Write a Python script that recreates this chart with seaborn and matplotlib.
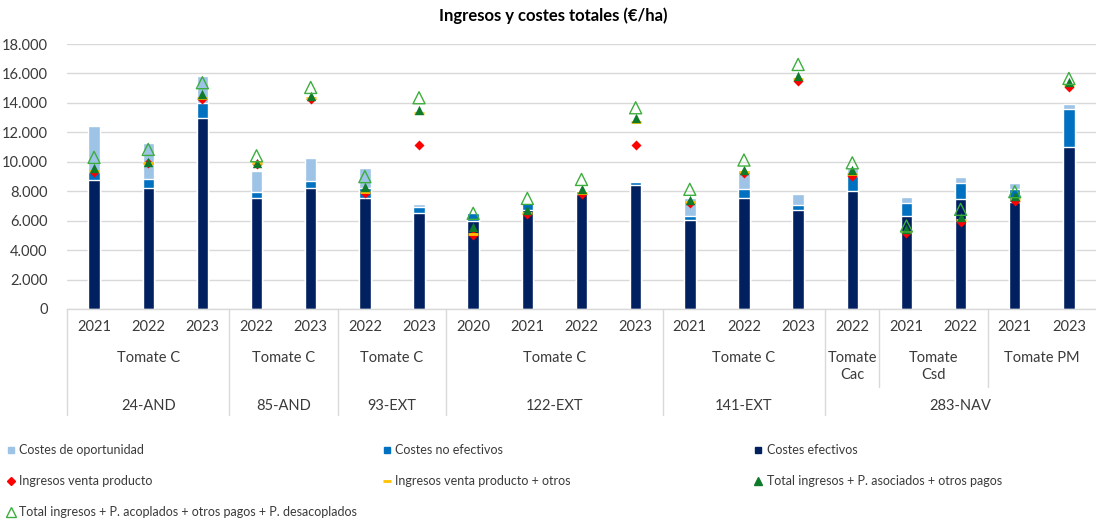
import numpy as np
import pandas as pd
import matplotlib
matplotlib.use("Agg")
import matplotlib.pyplot as plt
import matplotlib.transforms as mtransforms
from matplotlib.lines import Line2D
from matplotlib.ticker import FuncFormatter
import seaborn as sns

# %% Data (€/ha)
farms = ["24-AND"] * 3 + ["85-AND"] * 2 + ["93-EXT"] * 2 + ["122-EXT"] * 4 + \
        ["141-EXT"] * 3 + ["283-NAV"] * 5
varieties = ["Tomate C"] * 14 + ["Tomate\nCac"] + ["Tomate\nCsd"] * 2 + ["Tomate PM"] * 2
years = ["2021", "2022", "2023", "2022", "2023", "2022", "2023", "2020", "2021", "2022",
         "2023", "2021", "2022", "2023", "2022", "2021", "2022", "2021", "2023"]

costes_efectivos = [8760, 8240, 12990, 7510, 8240, 7510, 6540, 6000, 6720, 7790,
                    8420, 6040, 7510, 6720, 8010, 6340, 7470, 7240, 10980]
costes_no_efectivos = [560, 560, 980, 410, 470, 680, 410, 500, 500, 240,
                       220, 300, 620, 340, 1020, 880, 1060, 890, 2580]
costes_oportunidad = [3130, 2450, 1870, 1470, 1520, 1410, 180, 0, 80, 70,
                      0, 1220, 1310, 730, 520, 410, 460, 400, 360]

ingresos_venta = [9300, 9900, 14240, 9880, 14240, 7850, 11140, 5020, 6450, 7810,
                  11140, 7220, 9210, 15500, 9050, 5140, 5880, 7350, 15100]
ingresos_venta_otros = [9400, 9950, 14320, 9900, 14300, 7920, 13290, 5100, 6550, 7900,
                        12720, 7300, 9280, 15620, 9200, 5250, 6040, 7500, 15200]
total_asociados = [9550, 10000, 14600, 9930, 14480, 8260, 13510, 5590, 6720, 8130,
                   12950, 7400, 9440, 15840, 9440, 5410, 6270, 7690, 15430]
total_desacoplados = [10300, 10840, 15370, 10410, 15050, 8990, 14350, 6500, 7510, 8800,
                      13670, 8130, 10120, 16610, 9930, 5640, 6770, 7970, 15660]

# %% Setup
sns.set_theme(style="white")
plt.rcParams["font.family"] = ["Lato", "DejaVu Sans"]

C_OPORT, C_NOEF, C_EF = "#9DC3E6", "#0070C0", "#002060"
C_RED, C_YEL, C_GREEN, C_GREEN2 = "#FF0000", "#FFC000", "#0E7A2A", "#3DAE3D"
GRID = "#D9D9D9"
TXT = "#3A3A3A"

cats = [f"{f}|{v}|{y}" for f, v, y in zip(farms, varieties, years)]
df = pd.DataFrame({
    "cat": cats,
    "ef": costes_efectivos,
    "noef": costes_no_efectivos,
    "oport": costes_oportunidad,
})
df["mid"] = df["ef"] + df["noef"]
df["top"] = df["mid"] + df["oport"]
df["pos"] = np.arange(len(df))

fig = plt.figure(figsize=(10.96, 5.23), dpi=100)
ax = fig.add_axes([67 / 1096, 1 - 309 / 523, 1 - 67 / 1096, 265 / 523])

# stacked bars: draw cumulative totals back to front
for col, color in [("top", C_OPORT), ("mid", C_NOEF), ("ef", C_EF)]:
    sns.barplot(data=df, x="cat", y=col, order=cats, color=color, saturation=1,
                width=0.21, errorbar=None, ax=ax, zorder=2)

pos = df["pos"].to_numpy()
ax.scatter(pos, ingresos_venta, marker="D", s=26, color=C_RED, zorder=3, linewidths=0)
ax.scatter(pos, ingresos_venta_otros, marker="_", s=45, color=C_YEL, zorder=3, linewidths=2)
ax.scatter(pos, total_asociados, marker="^", s=46, color=C_GREEN, zorder=4, linewidths=0)
ax.scatter(pos, total_desacoplados, marker="^", s=75, facecolors="none",
           edgecolors=C_GREEN2, linewidths=1, zorder=5)

# %% Axes styling
ax.set_xlim(-0.5, len(cats) - 0.5)
ax.set_ylim(0, 18000)
ax.set_yticks(np.arange(0, 18001, 2000))
ax.yaxis.set_major_formatter(FuncFormatter(lambda v, _: f"{v:,.0f}".replace(",", ".")))
ax.grid(axis="y", color=GRID, linewidth=1, zorder=0)
ax.set_axisbelow(True)
for s in ["top", "right", "left"]:
    ax.spines[s].set_visible(False)
ax.spines["bottom"].set_color(GRID)
ax.spines["bottom"].set_linewidth(1)
ax.set_xlabel("")
ax.set_ylabel("")
ax.set_xticks(pos)
ax.set_xticklabels(years)
ax.tick_params(axis="x", length=0, pad=8, labelsize=10.5, labelcolor=TXT)
ax.tick_params(axis="y", length=0, pad=14, labelsize=10.5, labelcolor=TXT)

# multi-level category labels
trans = mtransforms.blended_transform_factory(ax.transData, ax.transAxes)


def runs(labels):
    out, start = [], 0
    for i in range(1, len(labels) + 1):
        if i == len(labels) or labels[i] != labels[start]:
            out.append((start, i - 1, labels[start]))
            start = i
    return out


farm_runs = runs(farms)
var_keys = [f + v for f, v in zip(farms, varieties)]
for a, b, _ in runs(var_keys):
    ax.text((a + b) / 2, -0.158, varieties[a], transform=trans, ha="center", va="top",
            fontsize=10.5, color=TXT, linespacing=1.3)
    if a not in [r[0] for r in farm_runs]:
        ax.plot([a - 0.5, a - 0.5], [0, -0.294], transform=trans, clip_on=False,
                color=GRID, linewidth=1)
for a, b, name in farm_runs:
    ax.text((a + b) / 2, -0.366, name, transform=trans, ha="center", va="center",
            fontsize=10.5, color=TXT)
    ax.plot([a - 0.5, a - 0.5], [0, -0.40], transform=trans, clip_on=False,
            color=GRID, linewidth=1)

fig.text(0.505, 0.970, "Ingresos y costes totales (€/ha)", ha="center", va="center",
         fontsize=12, fontweight="bold", color="black")

# %% Legend, three columns laid out row by row
def sq(c):
    return Line2D([], [], marker="s", linestyle="", color=c, markersize=5)


legend_cols = [
    [(sq(C_OPORT), "Costes de oportunidad"),
     (Line2D([], [], marker="D", linestyle="", color=C_RED, markersize=4.5),
      "Ingresos venta producto"),
     (Line2D([], [], marker="^", linestyle="", markerfacecolor="none",
             markeredgecolor=C_GREEN2, markersize=6.5), "Total ingresos + P. acoplados + otros pagos + P. desacoplados")],
    [(sq(C_NOEF), "Costes no efectivos"),
     (Line2D([], [], marker="_", linestyle="", color=C_YEL, markersize=6, markeredgewidth=2),
      "Ingresos venta producto + otros")],
    [(sq(C_EF), "Costes efectivos"),
     (Line2D([], [], marker="^", linestyle="", color=C_GREEN, markersize=5.5),
      "Total ingresos + P. asociados + otros pagos")],
]
for x0, entries in zip([0.006, 0.349, 0.688], legend_cols):
    handles, labels = zip(*entries)
    leg = fig.legend(handles, labels, loc="upper left", bbox_to_anchor=(x0, 0.151),
                     frameon=False, fontsize=9, handlelength=0.7, handletextpad=0.3,
                     labelspacing=1.52, borderpad=0, borderaxespad=0)
    for t in leg.get_texts():
        t.set_color(TXT)

fig.savefig("out.png", dpi=100)
